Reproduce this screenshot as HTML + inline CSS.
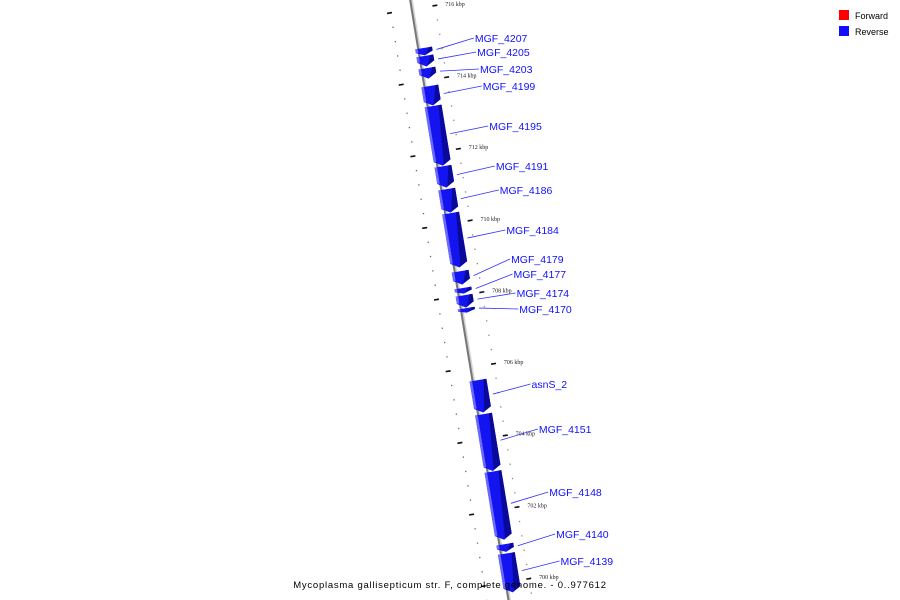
<!DOCTYPE html>
<html><head><meta charset="utf-8"><style>
html,body{margin:0;background:#fff;width:900px;height:600px;overflow:hidden;}
svg{display:block;font-family:"Liberation Sans",sans-serif;}
</style></head><body>
<svg id="map" width="900" height="600" viewBox="0 0 900 600" overflow="hidden">
<g id="rot" transform="translate(410,-1) rotate(-9.3)">
  <line x1="1.5" y1="-5" x2="1.5" y2="610" stroke="#d0d0d0" stroke-width="2"/>
  <line x1="0" y1="-5" x2="0" y2="610" stroke="#777" stroke-width="2"/>
  <g id="ticks"></g>
  <g id="genes"></g>
</g>
<g id="labels"></g>
<g>
  <rect x="839" y="10" width="10" height="10" fill="#ff0000"/>
  <text x="855" y="19" font-size="9" fill="#000">Forward</text>
  <rect x="839" y="26" width="10" height="10" fill="#1010ff"/>
  <text x="855" y="35" font-size="9" fill="#000">Reverse</text>
</g>
<text x="450" y="588" text-anchor="middle" font-size="9.5" letter-spacing="0.75" fill="#000">Mycoplasma gallisepticum str. F, complete genome. - 0..977612</text>
</svg>
<script>
const geneNames = ["MGF_4207","MGF_4205","MGF_4203","MGF_4199","MGF_4195","MGF_4191","MGF_4186","MGF_4184","MGF_4179","MGF_4177","MGF_4174","MGF_4170","asnS_2","MGF_4151","MGF_4148","MGF_4140","MGF_4139"];
const geneStart = [714.91,714.69,714.35,713.85,713.29,711.61,710.97,710.30,708.68,708.21,708.01,707.65,705.64,704.69,703.09,701.06,700.80];
const geneEnd   = [714.69,714.38,714.04,713.29,711.61,711.00,710.30,708.77,708.29,708.04,707.65,707.51,704.72,703.09,701.17,700.83,699.70];
const labelYs   = [42,56,73,90,130,170,194,234,263,278,297,313,388,433,496,538,565];
const majorTicks = [716,714,712,710,708,706,704,702,700];
const minorTicks = [];
for (let k = 699.6; k <= 716.9; k += 0.4) minorTicks.push(+k.toFixed(1));

const NS="http://www.w3.org/2000/svg";
const cosA=Math.cos(9.3*Math.PI/180), sinA=Math.sin(9.3*Math.PI/180);
function sPos(kbp){ return 10.5 + (716 - kbp) * 36.3; }
function toScreen(lx, ly){ return [410 + lx*cosA + ly*sinA, -1 - lx*sinA + ly*cosA]; }
function lineX(y){ return 410 + y*sinA/cosA; }
function mk(tag, attrs, parent){ const e=document.createElementNS(NS,tag); for(const k in attrs) e.setAttribute(k,attrs[k]); parent.appendChild(e); return e; }

const ticks=document.getElementById('ticks');
minorTicks.forEach(k=>{
  const s=sPos(k);
  const d1=mk('rect',{x:-22,y:s-0.5,width:1.3,height:1.3,fill:'#666'},ticks);
  
  
  const d2=mk('rect',{x:23,y:s-0.5,width:1.3,height:1.3,fill:'#888'},ticks);
  
  
});
majorTicks.forEach(k=>{
  const s=sPos(k);
  const t1=mk('rect',{x:-25,y:s-0.8,width:5,height:1.6,fill:'#111'},ticks);
  
  
  const t2=mk('rect',{x:21,y:s-0.8,width:5,height:1.6,fill:'#111'},ticks);
  
  
  const [sx,sy]=toScreen(34,s);
  const tl=mk('text',{x:sx,y:sy+2,'font-size':'6','font-family':'Liberation Serif, serif',fill:'#222'},document.getElementById('labels'));
  tl.textContent=k+' kbp';
  
  
});

const genes=document.getElementById('genes');
const labels=document.getElementById('labels');
geneNames.forEach((n,i)=>{
  const s1=sPos(geneStart[i]), s2=sPos(geneEnd[i]);
  const h=s2-s1, ah=Math.min(5,h*0.45);
  const g=mk('g',{},genes);
  
  
  const x0=-3,x1=14,xm=(x0+x1)/2;
  mk('polygon',{points:`${x0},${s1+0.5} ${x1},${s1+0.5} ${x1},${s2-ah} ${xm},${s2} ${x0},${s2-ah}`,fill:'#1414f0'},g);
  mk('polygon',{points:`${x1-3},${s1+0.5} ${x1},${s1+0.5} ${x1},${s2-ah} ${xm+1},${s2-1}`,fill:'#0a0a9a'},g);
  mk('rect',{x:x0,y:s1+0.5,width:2.5,height:Math.max(0,h-ah-0.5),fill:'#6a6aff'},g);
  const [gx,gy]=toScreen(18,(s1+s2)/2);
  const ly=labelYs[i], lx=lineX(ly)+58;
  const ln=mk('line',{x1:gx,y1:gy,x2:lx-1,y2:ly-4,stroke:'#3030ff','stroke-width':'0.8'},labels);
  
  
  const t=mk('text',{x:lx,y:ly,'font-size':'10.5',fill:'#1010ff'},labels);
  t.textContent=n;
  
  
});
</script>
</body></html>
